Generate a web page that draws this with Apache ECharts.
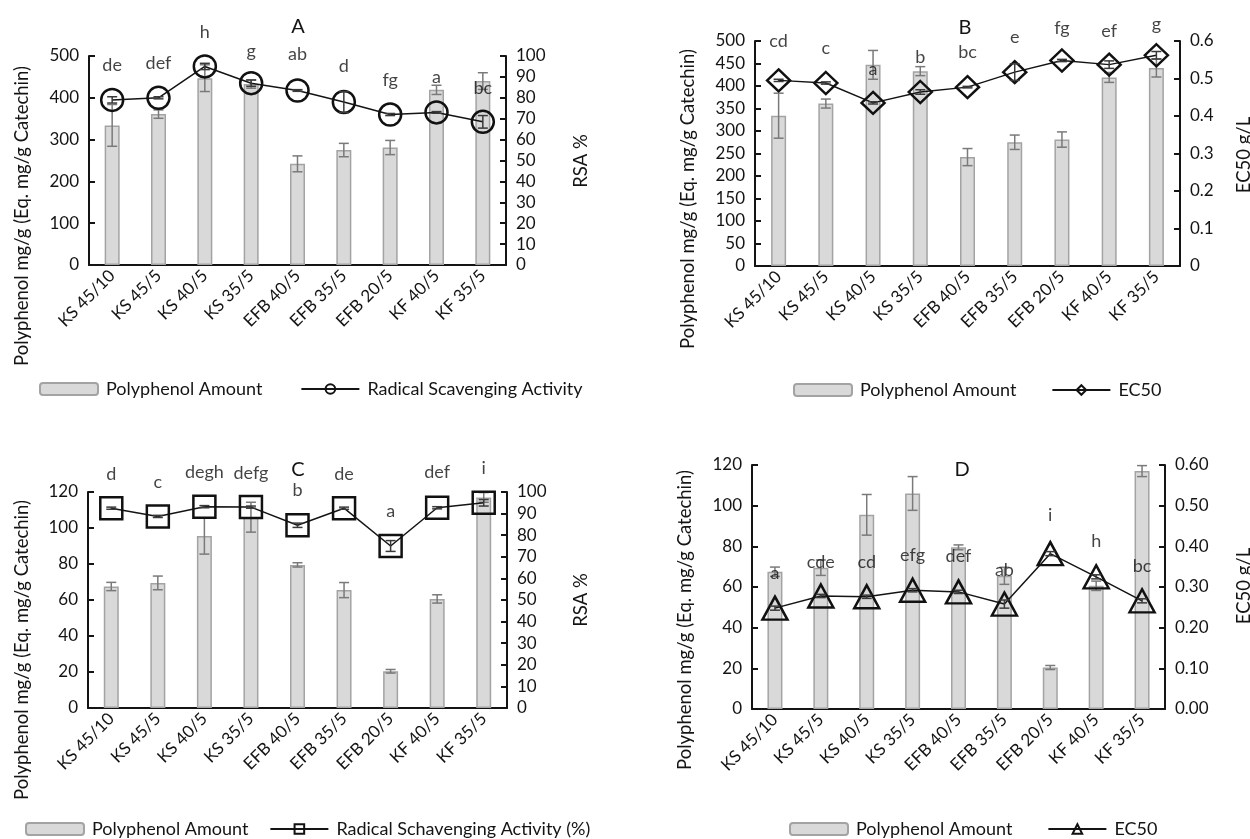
<!DOCTYPE html>
<html>
<head>
<meta charset="utf-8">
<script src="https://cdn.jsdelivr.net/npm/echarts/dist/echarts.min.js"></script>
<style>
  html, body { margin: 0; padding: 0; background: #ffffff; }
  #chart { width: 1250px; height: 839px; }
</style>
</head>
<body>
<div id="chart"></div>
<script>
// Extraction samples (label = solvent % / time)
const categories = ['KS 45/10', 'KS 45/5', 'KS 40/5', 'KS 35/5', 'EFB 40/5', 'EFB 35/5', 'EFB 20/5', 'KF 40/5', 'KF 35/5'];

// Panels A and B: polyphenol amount (mg/g, Eq. mg/g catechin) with SD
const polyphenolAB    = [334, 361, 447, 433, 242, 275, 281, 419, 440];
const polyphenolABErr = [50, 10, 32, 10, 19, 16, 17, 11, 20];

// Panel A: radical scavenging activity (%)
const rsaA    = [79, 80, 95, 87, 83.5, 78, 72, 73, 68.5];
const rsaAErr = [1.5, 0.5, 1.5, 1.5, 0.4, 5, 0.5, 0.4, 3];
const lettersA     = ['de', 'def', 'h', 'g', 'ab', 'd', 'fg', 'a', 'bc'];
const letterLevelA = [95.7, 96.5, 111.6, 102.5, 100.8, 94.9, 88.5, 89.8, 84.8];

// Panel B: EC50 (g/L)
const ec50B    = [0.495, 0.488, 0.435, 0.464, 0.477, 0.517, 0.548, 0.537, 0.562];
const ec50BErr = [0.003, 0.003, 0.003, 0.006, 0.002, 0.022, 0.003, 0.01, 0.01];
const lettersB     = ['cd', 'c', 'a', 'b', 'bc', 'e', 'fg', 'ef', 'g'];
const letterLevelB = [0.600, 0.580, 0.526, 0.557, 0.570, 0.609, 0.635, 0.626, 0.644];

// Panels C and D: polyphenol amount with SD
const polyphenolCD    = [67.5, 69.5, 95.5, 106, 79.5, 65.5, 20.4, 60.6, 117];
const polyphenolCDErr = [2.3, 3.8, 10, 8.3, 1.2, 4.2, 1.0, 2.3, 2.7];

// Panel C: radical scavenging activity (%)
const rsaC    = [92.5, 88.7, 93.2, 93, 84.6, 92.5, 75, 92.7, 95];
const rsaCErr = [0.5, 0.5, 0.5, 0.5, 1, 0.5, 2.5, 0.5, 1.5];
const lettersC     = ['d', 'c', 'degh', 'defg', 'b', 'de', 'a', 'def', 'i'];
const letterLevelC = [108.4, 104.6, 109.2, 108.8, 100.8, 108.4, 91.2, 109.2, 110.8];

// Panel D: EC50 (g/L)
const ec50D    = [0.248, 0.278, 0.276, 0.292, 0.288, 0.258, 0.382, 0.325, 0.266];
const ec50DErr = [0.005, 0.004, 0.004, 0.004, 0.004, 0.01, 0.005, 0.005, 0.005];
const lettersD     = ['a', 'cde', 'cd', 'efg', 'def', 'ab', 'i', 'h', 'bc'];
const letterLevelD = [0.334, 0.36, 0.36, 0.379, 0.375, 0.342, 0.477, 0.413, 0.35];

// ---------------------------------------------------------------------------
const FONT = 'Lato, "Open Sans", sans-serif';
const INK = '#141414';
const TEXT_SIZE = 18;

const panels = [
  {
    title: 'A', grid: { left: 89, top: 56, width: 417, height: 209 },
    left: { max: 500, interval: 100 }, right: { max: 100, interval: 10 },
    bars: polyphenolAB, barErr: polyphenolABErr,
    line: rsaA, lineErr: rsaAErr, lineName: 'Radical Scavenging Activity',
    symbol: 'circle', symbolSize: 22,
    letters: lettersA, letterLevel: letterLevelA,
    titlePos: [298, 27], leftName: [22, 216], rightName: 'RSA %', rightNamePos: [581, 161],
    legend: { left: 34, top: 375, itemGap: 38 }
  },
  {
    title: 'B', grid: { left: 755, top: 41, width: 425, height: 225 },
    left: { max: 500, interval: 50 }, right: { max: 0.6, interval: 0.1 },
    bars: polyphenolAB, barErr: polyphenolABErr,
    line: ec50B, lineErr: ec50BErr, lineName: 'EC50#B',
    symbol: 'diamond', symbolSize: [23, 22],
    letters: lettersB, letterLevel: letterLevelB,
    titlePos: [965, 28], leftName: [688, 199], rightName: 'EC50 g/L', rightNamePos: [1244, 155],
    legend: { left: 788, top: 376, itemGap: 35 }
  },
  {
    title: 'C', grid: { left: 88, top: 492, width: 419, height: 216 },
    left: { max: 120, interval: 20 }, right: { max: 100, interval: 10 },
    bars: polyphenolCD, barErr: polyphenolCDErr,
    line: rsaC, lineErr: rsaCErr, lineName: 'Radical Schavenging Activity (%)',
    symbol: 'rect', symbolSize: 22,
    letters: lettersC, letterLevel: letterLevelC,
    titlePos: [298, 470], leftName: [22, 650], rightName: 'RSA %', rightNamePos: [581, 600],
    legend: { left: 20, top: 815, itemGap: 21 }
  },
  {
    title: 'D', grid: { left: 752, top: 465, width: 413, height: 244 },
    left: { max: 120, interval: 20 }, right: { max: 0.6, interval: 0.1, decimals: 2 },
    bars: polyphenolCD, barErr: polyphenolCDErr,
    line: ec50D, lineErr: ec50DErr, lineName: 'EC50#D',
    symbol: 'triangle', symbolSize: [25, 23],
    letters: lettersD, letterLevel: letterLevelD,
    titlePos: [962, 470], leftName: [685, 620], rightName: 'EC50 g/L', rightNamePos: [1244, 586],
    legend: { left: 784, top: 815, itemGap: 35 }
  }
];

const grids = [], xAxes = [], yAxes = [], series = [], legends = [], graphics = [];

// Vertical error bar with caps, drawn through the panel's own axes
function errorBars(xi, yi, values, errs, color, cap, z) {
  return {
    type: 'custom', xAxisIndex: xi, yAxisIndex: yi, z: z, silent: true,
    data: values.map((v, i) => [i, v, errs[i]]),
    encode: { x: 0, y: 1 },
    renderItem(params, api) {
      const i = api.value(0), v = api.value(1), e = api.value(2);
      const hi = api.coord([i, v + e]);
      const lo = api.coord([i, v - e]);
      const x = hi[0];
      const st = { stroke: color, lineWidth: 1.5 };
      return {
        type: 'group',
        children: [
          { type: 'line', shape: { x1: x, y1: hi[1], x2: x, y2: lo[1] }, style: st },
          { type: 'line', shape: { x1: x - cap / 2, y1: hi[1], x2: x + cap / 2, y2: hi[1] }, style: st },
          { type: 'line', shape: { x1: x - cap / 2, y1: lo[1], x2: x + cap / 2, y2: lo[1] }, style: st }
        ]
      };
    }
  };
}

function valueAxis(gi, cfg, position) {
  return {
    type: 'value', gridIndex: gi, position: position,
    min: 0, max: cfg.max, interval: cfg.interval,
    axisLine: { show: true, lineStyle: { color: INK, width: 2 } },
    axisTick: { show: true, inside: true, length: 6, lineStyle: { color: INK, width: 2 } },
    splitLine: { show: false },
    axisLabel: {
      fontFamily: FONT, fontSize: 17, color: INK, margin: 10,
      formatter: cfg.decimals ? (v => v.toFixed(cfg.decimals)) : null
    }
  };
}

panels.forEach((p, k) => {
  grids.push(Object.assign({ containLabel: false }, p.grid));

  xAxes.push({
    type: 'category', gridIndex: k, data: categories,
    axisLine: { show: true, lineStyle: { color: INK, width: 2 } },
    axisTick: { show: false },
    axisLabel: { interval: 0, rotate: 45, fontFamily: FONT, fontSize: 17, color: INK, margin: 8 }
  });

  const yl = yAxes.length;
  yAxes.push(valueAxis(k, p.left, 'left'));
  yAxes.push(valueAxis(k, p.right, 'right'));

  series.push({
    name: 'Polyphenol Amount', type: 'bar', xAxisIndex: k, yAxisIndex: yl,
    data: p.bars, barWidth: 15, z: 2,
    itemStyle: { color: '#d9d9d9', borderColor: '#a3a3a3', borderWidth: 1.5 }
  });
  series.push(errorBars(k, yl, p.bars, p.barErr, '#7a7a7a', 10, 3));

  series.push({
    name: p.lineName, type: 'line', xAxisIndex: k, yAxisIndex: yl + 1,
    data: p.line, z: 4,
    symbol: p.symbol, symbolSize: p.symbolSize, showAllSymbol: true,
    lineStyle: { color: INK, width: 1.5 },
    itemStyle: { color: 'rgba(255,255,255,0)', borderColor: '#111111', borderWidth: 2.5 }
  });
  series.push(errorBars(k, yl + 1, p.line, p.lineErr, '#3a3a3a', 10, 5));

  // significance letters above each sample
  series.push({
    type: 'scatter', xAxisIndex: k, yAxisIndex: yl + 1, z: 6, silent: true, clip: false,
    symbolSize: 0,
    data: p.letterLevel.map((h, i) => [i, h]),
    label: {
      show: true, position: 'inside', fontFamily: FONT, fontSize: TEXT_SIZE, color: INK,
      formatter: (prm) => p.letters[prm.dataIndex]
    }
  });

  legends.push({
    left: p.legend.left, top: p.legend.top, itemGap: p.legend.itemGap,
    itemWidth: 58, itemHeight: 12, orient: 'horizontal',
    data: ['Polyphenol Amount', p.lineName],
    formatter: (n) => n.split('#')[0],
    textStyle: { fontFamily: FONT, fontSize: TEXT_SIZE, color: INK, padding: [0, 0, 0, 3] },
    selectedMode: false
  });

  graphics.push({
    type: 'text', x: p.titlePos[0], y: p.titlePos[1],
    style: { text: p.title, font: '20px ' + FONT, fill: INK, align: 'center', verticalAlign: 'middle' }
  });
  graphics.push({
    type: 'text', x: p.leftName[0], y: p.leftName[1], rotation: Math.PI / 2,
    style: { text: 'Polyphenol mg/g (Eq. mg/g Catechin)', font: '18.5px ' + FONT, fill: INK, align: 'center', verticalAlign: 'middle' }
  });
  graphics.push({
    type: 'text', x: p.rightNamePos[0], y: p.rightNamePos[1], rotation: Math.PI / 2,
    style: { text: p.rightName, font: '18.5px ' + FONT, fill: INK, align: 'center', verticalAlign: 'middle' }
  });
});

const chart = echarts.init(document.getElementById('chart'), null, { renderer: 'canvas' });
chart.setOption({
  animation: false,
  backgroundColor: '#ffffff',
  grid: grids,
  xAxis: xAxes,
  yAxis: yAxes,
  legend: legends,
  graphic: graphics,
  series: series
});
</script>
</body>
</html>
